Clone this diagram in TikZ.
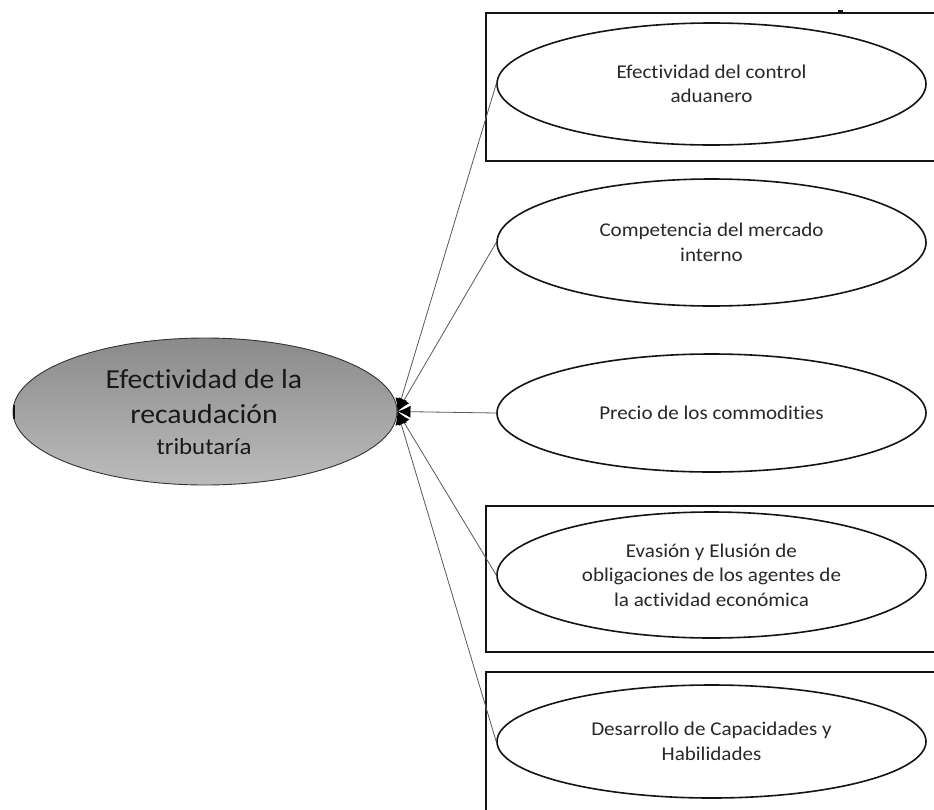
\documentclass[tikz,border=0pt]{standalone}
\usepackage{fontspec}
\setmainfont{Carlito}[FakeStretch=1.08, Ligatures=NoCommon]
\usetikzlibrary{shapes.geometric,arrows.meta}
\definecolor{ctop}{RGB}{138,138,138}
\definecolor{cbot}{RGB}{188,188,188}
\definecolor{edge}{RGB}{20,20,20}
\definecolor{txt}{RGB}{40,40,40}
\tikzset{
  child/.style={ellipse, draw=edge, line width=1.6pt, minimum width=429pt, inner sep=0pt,
    align=center, font=\fontsize{19.5}{24.5}\selectfont, text=txt},
  frame/.style={draw=edge, line width=1.3pt},
  link/.style={draw=black!65, line width=0.8pt, -{Latex[length=13pt,width=12pt,black]}},
  ctxt/.style={anchor=base, inner sep=0pt, text=black!90},
}
\begin{document}
\begin{tikzpicture}[x=1pt,y=-1pt]
\clip (0,0) rectangle (934,809);
\fill[white] (0,0) rectangle (934,809);
% frames
\draw[frame] (486,13) rectangle (945,161);
\draw[frame] (486,506) rectangle (945,652);
\draw[frame] (486,672) rectangle (945,830);
\draw[line width=1.5pt, edge] (838,11) -- (843,11);
% central node
\node[ellipse, draw=black!80, line width=0.9pt, top color=ctop, bottom color=cbot,
  minimum width=384pt, minimum height=147pt, inner sep=0pt] (c) at (205,411.5) {};
\node[ctxt, font=\fontsize{27.5}{33}\selectfont] (ct1) at (204,388) {Efectividad de la};
\node[ctxt, font=\fontsize{27.5}{33}\selectfont] (ct2) at (204,423) {recaudación};
\node[ctxt, font=\fontsize{23}{28}\selectfont] (ct3) at (204,454) {tributaría};
\draw[line width=2.5pt, edge] ([xshift=1.5pt,yshift=-7pt]c.west) -- ([xshift=1.5pt,yshift=7pt]c.west);
% children
\node[child, minimum height=122pt] (e1) at (711.5,84) {Efectividad del control\\aduanero};
\node[child, minimum height=127pt] (e2) at (711.5,242.5) {Competencia del mercado\\interno};
\node[child, minimum height=118pt] (e3) at (711.5,413) {Precio de los commodities};
\node[child, minimum height=126pt] (e4) at (711.5,575) {Evasión y Elusión de\\obligaciones de los agentes de\\la actividad económica};
\node[child, minimum height=113pt] (e5) at (711.5,741.5) {Desarrollo de Capacidades y\\Habilidades};
% connectors
\draw[link] (e1.west) -- (c.east);
\draw[link] (e2.west) -- (c.east);
\draw[link] (e3.west) -- (c.east);
\draw[link] (e4.west) -- (c.east);
\draw[link] (e5.west) -- (c.east);
\end{tikzpicture}
\end{document}
